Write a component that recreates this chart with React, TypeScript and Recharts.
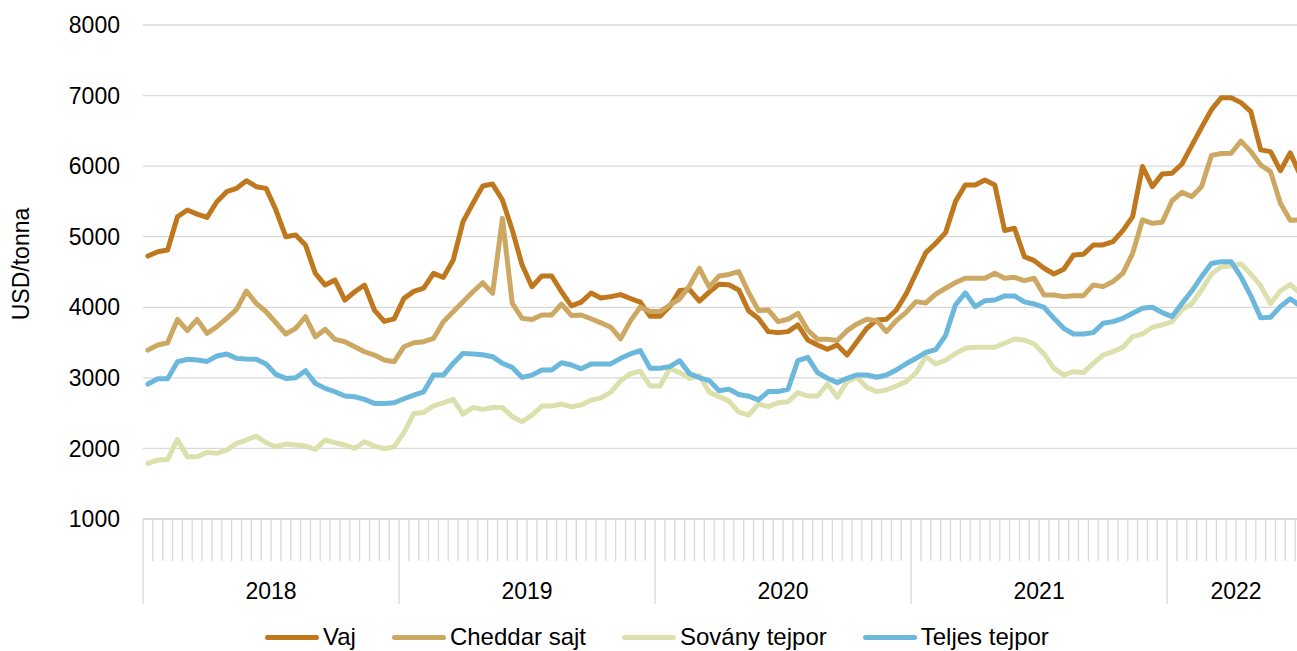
import { CartesianGrid, Line, LineChart, XAxis, YAxis } from "recharts"

// GDT-style price series, USD/tonna, roughly two auctions per month
const YEARS = ["2018", "2019", "2020", "2021", "2022"]
const POINTS_PER_YEAR = [26, 26, 26, 26, 14]

const vaj = [
  4726, 4787, 4811, 5283, 5378, 5321, 5274, 5496, 5638, 5685, 5794, 5709, 5685, 5378, 5000, 5024, 4882, 4480, 4315, 4386, 4102, 4220, 4315, 3961, 3800, 3835,
  4126, 4225, 4270, 4480, 4424, 4669, 5213, 5472, 5718, 5746, 5520, 5094, 4598, 4291, 4443, 4443, 4220, 4020, 4073, 4203, 4132, 4151, 4180, 4125, 4073, 3872,
  3872, 4016, 4238, 4250, 4087, 4215, 4328, 4320, 4246, 3950, 3840, 3655, 3641, 3655, 3750, 3537, 3466, 3405, 3466, 3324, 3513, 3702, 3820, 3830, 3962, 4190,
  4482, 4775, 4907, 5058, 5497, 5734, 5734, 5805, 5734, 5087, 5120, 4718, 4661, 4553, 4472, 4539, 4742, 4751, 4883, 4883, 4931, 5087, 5285, 5994, 5710, 5890,
  5899, 6030, 6290, 6550, 6800, 6970, 6970, 6900, 6773, 6230, 6206, 5935, 6188, 5880,
]

const cheddar = [
  3394, 3465, 3498, 3828, 3668, 3828, 3630, 3725, 3843, 3970, 4230, 4055, 3937, 3781, 3621, 3701, 3866, 3583, 3687, 3545, 3512, 3441, 3370, 3323, 3252, 3228,
  3441, 3498, 3512, 3559, 3795, 3937, 4079, 4220, 4348, 4197, 5260, 4055, 3843, 3828, 3890, 3890, 4046, 3885, 3891, 3837, 3780, 3718, 3553, 3808, 4005, 3939,
  3939, 4033, 4116, 4305, 4553, 4286, 4444, 4465, 4505, 4210, 3955, 3962, 3797, 3830, 3915, 3679, 3546, 3546, 3528, 3669, 3764, 3830, 3811, 3655, 3811, 3927,
  4080, 4062, 4187, 4270, 4350, 4411, 4411, 4411, 4482, 4411, 4425, 4378, 4411, 4175, 4175, 4151, 4165, 4165, 4317, 4293, 4364, 4482, 4765, 5238, 5190, 5205,
  5510, 5628, 5568, 5710, 6152, 6178, 6182, 6355, 6206, 6017, 5922, 5474, 5233, 5238,
]

const sovany = [
  1788, 1835, 1844, 2128, 1882, 1882, 1944, 1930, 1977, 2071, 2119, 2175, 2081, 2024, 2062, 2048, 2033, 1986, 2119, 2081, 2048, 2001, 2095, 2033, 1996, 2024,
  2223, 2496, 2510, 2602, 2647, 2695, 2487, 2581, 2553, 2581, 2581, 2449, 2378, 2473, 2600, 2600, 2629, 2591, 2616, 2682, 2717, 2795, 2958, 3060, 3095, 2885,
  2885, 3135, 3074, 2994, 3034, 2798, 2734, 2670, 2514, 2474, 2628, 2592, 2649, 2663, 2791, 2743, 2743, 2913, 2725, 2947, 3009, 2866, 2805, 2828, 2885, 2947,
  3070, 3300, 3197, 3249, 3344, 3419, 3433, 3433, 3433, 3490, 3551, 3537, 3480, 3339, 3135, 3041, 3088, 3074, 3206, 3324, 3372, 3433, 3584, 3622, 3717, 3750,
  3797, 3967, 4050, 4245, 4470, 4576, 4585, 4618, 4470, 4306, 4050, 4234, 4323, 4200,
]

const teljes = [
  2912, 2988, 2988, 3228, 3262, 3252, 3233, 3309, 3337, 3276, 3266, 3262, 3195, 3049, 2992, 3002, 3101, 2922, 2851, 2803, 2742, 2732, 2695, 2638, 2638, 2648,
  2704, 2756, 2803, 3039, 3039, 3205, 3347, 3337, 3328, 3300, 3205, 3148, 3006, 3039, 3110, 3110, 3214, 3182, 3128, 3197, 3197, 3197, 3277, 3339, 3386, 3135,
  3135, 3159, 3244, 3060, 3002, 2961, 2817, 2840, 2765, 2740, 2687, 2805, 2805, 2838, 3244, 3291, 3074, 2994, 2932, 2994, 3041, 3041, 3008, 3041, 3112, 3200,
  3277, 3360, 3400, 3600, 4033, 4205, 4009, 4094, 4104, 4161, 4161, 4076, 4047, 4000, 3844, 3702, 3622, 3622, 3641, 3773, 3797, 3844, 3915, 3986, 4000, 3924,
  3868, 4052, 4230, 4435, 4620, 4647, 4647, 4430, 4163, 3850, 3858, 4009, 4120, 4020,
]

const Y_TICKS = [1000, 2000, 3000, 4000, 5000, 6000, 7000, 8000]

const SERIES = [
  { key: "vaj", name: "Vaj", color: "#C0781E", values: vaj },
  { key: "cheddar", name: "Cheddar sajt", color: "#CDA862", values: cheddar },
  { key: "sovany", name: "Sovány tejpor", color: "#DCE0AC", values: sovany },
  { key: "teljes", name: "Teljes tejpor", color: "#6BB8DC", values: teljes },
]

const FONT = "'Liberation Sans', Arial, sans-serif"
const GRID = "#d9d9d9"

// chart is a bit wider than the page, the right end gets clipped like the original
const CHART_W = 1320
const CHART_H = 651
const MARGIN = { top: 25, right: 15, left: 0, bottom: 0 }
const Y_AXIS_W = 143
const X_AXIS_H = 132

const categories = YEARS.flatMap((year, yi) =>
  Array.from({ length: POINTS_PER_YEAR[yi] }, (_, k) => `${year}/${k + 1}`)
)
const N = categories.length
const STEP = (CHART_W - MARGIN.left - MARGIN.right - Y_AXIS_W) / N

const chartData = categories.map((period, i) => {
  const row: Record<string, string | number> = { period }
  SERIES.forEach(s => {
    row[s.key] = s.values[i]
  })
  return row
})

// first index of each year
const yearStarts = POINTS_PER_YEAR.map((_, yi) =>
  POINTS_PER_YEAR.slice(0, yi).reduce((a, b) => a + b, 0)
)

function PeriodTick(props: any) {
  const { x, y, index } = props
  const left = x - STEP / 2
  const yi = yearStarts.indexOf(index)
  let label: { text: string; x: number } | null = null
  yearStarts.forEach((start, k) => {
    const count = POINTS_PER_YEAR[k]
    const mid = start + Math.floor(count / 2)
    if (index === mid) {
      label = { text: YEARS[k], x: count % 2 === 0 ? left : x }
    }
  })
  return (
    <g>
      <line x1={left} x2={left} y1={y} y2={y + (yi >= 0 ? 85 : 42)} stroke={GRID} strokeWidth={1.3} />
      {label && (
        <text x={(label as any).x} y={y + 80} textAnchor="middle" fontSize={23} fontFamily={FONT} fill="#000">
          {(label as any).text}
        </text>
      )}
    </g>
  )
}

export default function App() {
  return (
    <div style={{ position: "fixed", left: 0, top: 0, width: 1297, height: 651, overflow: "hidden", background: "#fff" }}>
      <LineChart width={CHART_W} height={CHART_H} data={chartData} margin={MARGIN}>
        <CartesianGrid vertical={false} stroke={GRID} strokeWidth={1.3} />
        <XAxis
          dataKey="period"
          interval={0}
          height={X_AXIS_H}
          tickSize={0}
          tickMargin={0}
          tickLine={false}
          axisLine={{ stroke: GRID, strokeWidth: 1.3 }}
          padding={{ left: STEP / 2, right: STEP / 2 }}
          tick={<PeriodTick />}
        />
        <YAxis
          type="number"
          domain={[1000, 8000]}
          ticks={Y_TICKS}
          width={Y_AXIS_W}
          axisLine={false}
          tickLine={false}
          tickMargin={17}
          tick={{ fontSize: 23, fill: "#000", fontFamily: FONT }}
          label={() => (
            <text
              x={21}
              y={264}
              transform="rotate(-90, 21, 264)"
              textAnchor="middle"
              dominantBaseline="central"
              fontSize={23}
              fontFamily={FONT}
              fill="#000"
            >
              USD/tonna
            </text>
          )}
        />
        {SERIES.map(s => (
          <Line
            key={s.key}
            type="linear"
            dataKey={s.key}
            name={s.name}
            stroke={s.color}
            strokeWidth={5}
            strokeLinejoin="round"
            strokeLinecap="round"
            dot={false}
            activeDot={false}
            isAnimationActive={false}
          />
        ))}
      </LineChart>
      <div
        style={{
          position: "absolute",
          left: 265,
          top: 622,
          height: 30,
          display: "flex",
          alignItems: "center",
          fontFamily: FONT,
          fontSize: 24,
          color: "#000",
          whiteSpace: "nowrap",
        }}
      >
        {SERIES.map(s => (
          <div key={s.key} style={{ display: "flex", alignItems: "center", marginRight: 36 }}>
            <span style={{ display: "inline-block", width: 54, height: 5, borderRadius: 3, background: s.color, marginRight: 4 }} />
            <span>{s.name}</span>
          </div>
        ))}
      </div>
    </div>
  )
}
